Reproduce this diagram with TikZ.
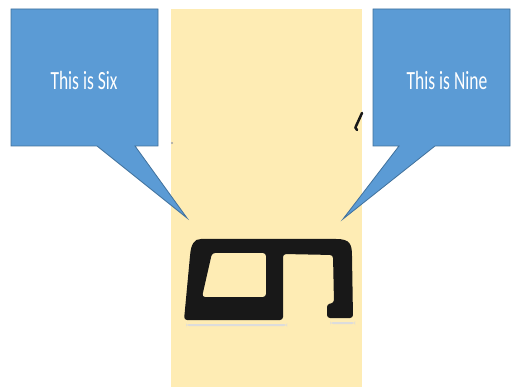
\documentclass[tikz,border=0pt]{standalone}
\usepackage{fontspec}
\setmainfont{Carlito}
\usepackage{graphicx}
\definecolor{CalloutBlue}{RGB}{91,155,213}
\definecolor{CalloutEdge}{RGB}{65,113,156}
\definecolor{PaperYellow}{RGB}{254,236,180}
\definecolor{InkBlack}{RGB}{24,24,24}
\tikzset{
  callout/.style={fill=CalloutBlue,draw=CalloutEdge,line width=0.8pt,line join=miter},
  calltext/.style={text=white,font=\fontsize{17.5}{20}\selectfont,inner sep=0pt},
  ink/.style={fill=InkBlack,even odd rule},
  smudge/.style={InkBlack!15,rounded corners=3pt}
}

\begin{document}
\begin{tikzpicture}[x=1pt,y=-1pt]
  \useasboundingbox (0,0) rectangle (511,387);
  % scanned paper strip
  \fill[PaperYellow] (171,9) rectangle (362,387);
  % the handwritten figure, with its faint shadow
  \fill[smudge] (186,324) rectangle (287,326);
  \fill[smudge] (330,322) rectangle (355,324);
  \fill[ink] (201,239) -- (336,239) .. controls (350,239) and (352,244) .. (352,256)
    [rounded corners=3pt] -- (353,318) -- (327,318)
    -- (327,304) -- (334,303) -- (333,255) -- (283,254) -- (283,320)
    -- (184,320) [sharp corners] -- (190,256) .. controls (191,244) and (194,239) .. cycle
    [rounded corners=3pt] (212,253) -- (266,253) -- (266,297) -- (202,297) -- cycle;
  \fill[InkBlack!40] (172,143) circle (1.2);
  \draw[InkBlack,line width=2.5pt,line cap=round] (362,113) -- (357,124) .. controls (355,128) .. (357,130);
  % callouts
  \draw[callout] (11,9) -- (158,9) -- (158,146) -- (135,146) -- (187,218)
    -- (97,146) -- (11,146) -- cycle;
  \draw[callout] (373,9) -- (510,9) -- (510,146) -- (435,146) -- (343,219)
    -- (399,146) -- (373,146) -- cycle;
  \node[calltext] (six) at (84,80) {\scalebox{1}[1.5]{This is Six}};
  \node[calltext] (nine) at (447,80) {\scalebox{1}[1.5]{This is Nine}};
\end{tikzpicture}
\end{document}
